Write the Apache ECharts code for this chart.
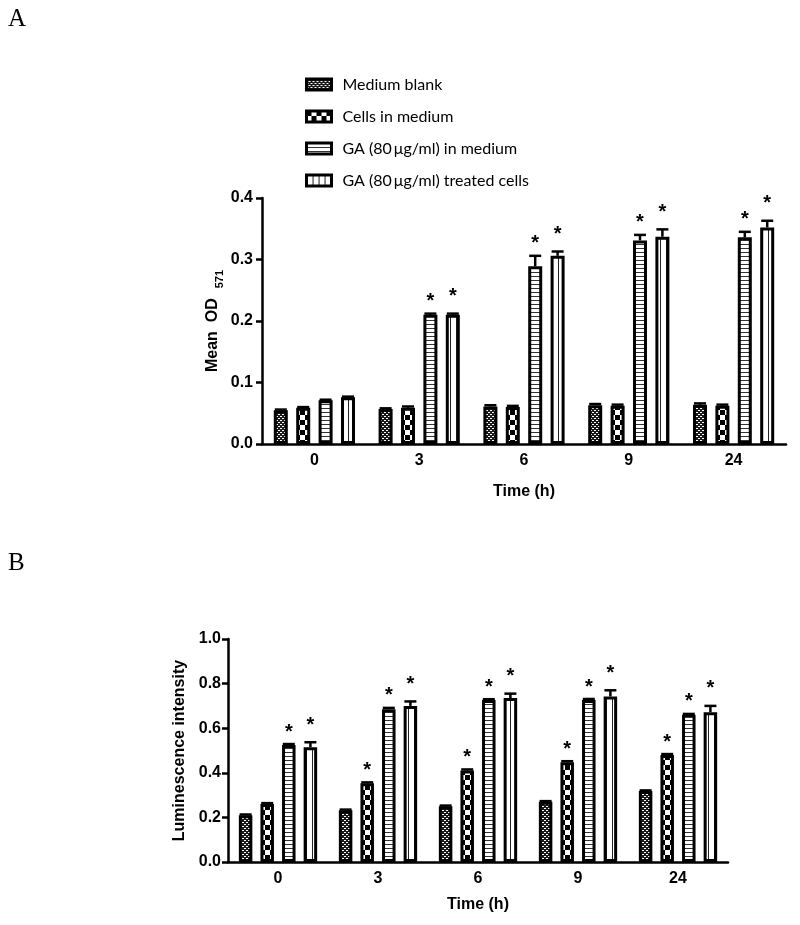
<!DOCTYPE html>
<html><head><meta charset="utf-8">
<script src="https://cdn.jsdelivr.net/npm/echarts@6/dist/echarts.min.js"></script>
<style>html,body{margin:0;padding:0;background:#fff}#c{width:800px;height:925px}</style>
</head><body><div id="c"></div>
<script>
// ---------- data ----------
const categories = ['0', '3', '6', '9', '24'];
const seriesNames = ['Medium blank', 'Cells in medium', 'GA (80\u2009\u03bcg/ml) in medium', 'GA (80\u2009\u03bcg/ml) treated cells'];

// Panel A : Mean OD 571
const aBlank     = [0.055, 0.057, 0.061, 0.063, 0.064];
const aCells     = [0.059, 0.059, 0.060, 0.062, 0.062];
const aGAMedium  = [0.071, 0.210, 0.289, 0.331, 0.336];
const aGATreated = [0.076, 0.210, 0.306, 0.337, 0.352];
const aBlankErr     = [0.001, 0.001, 0.002, 0.002, 0.002];
const aCellsErr     = [0.001, 0.002, 0.002, 0.002, 0.002];
const aGAMediumErr  = [0.001, 0.002, 0.017, 0.009, 0.009];
const aGATreatedErr = [0.001, 0.002, 0.007, 0.012, 0.011];
const aBlankSig     = [0, 0, 0, 0, 0];
const aCellsSig     = [0, 0, 0, 0, 0];
const aGAMediumSig  = [0, 1, 1, 1, 1];
const aGATreatedSig = [0, 1, 1, 1, 1];
const aTicks = [0, 0.1, 0.2, 0.3, 0.4];

// Panel B : Luminescence intensity
const bBlank     = [0.210, 0.232, 0.250, 0.270, 0.318];
const bCells     = [0.260, 0.353, 0.410, 0.447, 0.480];
const bGAMedium  = [0.525, 0.685, 0.727, 0.727, 0.660];
const bGATreated = [0.515, 0.700, 0.735, 0.742, 0.672];
const bBlankErr     = [0.003, 0.003, 0.003, 0.003, 0.003];
const bCellsErr     = [0.004, 0.004, 0.005, 0.005, 0.004];
const bGAMediumErr  = [0.004, 0.006, 0.003, 0.004, 0.004];
const bGATreatedErr = [0.022, 0.020, 0.020, 0.028, 0.028];
const bBlankSig     = [0, 0, 0, 0, 0];
const bCellsSig     = [0, 1, 1, 1, 1];
const bGAMediumSig  = [1, 1, 1, 1, 1];
const bGATreatedSig = [1, 1, 1, 1, 1];
const bTicks = [0, 0.2, 0.4, 0.6, 0.8, 1.0];

// ---------- patterns ----------
function tile(w, h, draw) {
  const c = document.createElement('canvas');
  c.width = w; c.height = h;
  const ctx = c.getContext('2d');
  draw(ctx);
  return { image: c, repeat: 'repeat' };
}
const patDots = tile(4, 4, ctx => {
  ctx.fillStyle = '#1a1a1a'; ctx.fillRect(0, 0, 4, 4);
  ctx.fillStyle = '#fff'; ctx.fillRect(0, 0, 2, 1); ctx.fillRect(2, 2, 2, 1);
});
const patChecker = tile(10, 10, ctx => {
  ctx.fillStyle = '#fff'; ctx.fillRect(0, 0, 10, 10);
  ctx.fillStyle = '#000'; ctx.fillRect(0, 0, 5, 5); ctx.fillRect(5, 5, 5, 5);
});
const patHoriz = tile(4, 4, ctx => {
  ctx.fillStyle = '#fff'; ctx.fillRect(0, 0, 4, 4);
  ctx.fillStyle = '#333'; ctx.fillRect(0, 0, 4, 1);
});
const patVert = tile(6, 4, ctx => {
  ctx.fillStyle = '#fff'; ctx.fillRect(0, 0, 6, 4);
  ctx.fillStyle = '#222'; ctx.fillRect(0, 0, 1, 4);
});
const patterns = [patDots, patChecker, patHoriz, patVert];

// ---------- helpers ----------
const FONT = 'Liberation Sans';
const starGap = [17, 17, 17, 22];

function errData(vals, errs, sigs) {
  const out = [];
  vals.forEach((v, s) => v.forEach((val, i) => out.push([i, val, errs[s][i], sigs[s][i], s])));
  return out;
}
function errRenderer(pitch, capW) {
  return function (params, api) {
    const cat = api.value(0), val = api.value(1), err = api.value(2), sig = api.value(3), s = api.value(4);
    const base = api.coord([cat, val]);
    const x = base[0] + (s - 1.5) * pitch;
    const top = api.coord([cat, val + err])[1];
    const children = [
      { type: 'line', shape: { x1: x, y1: base[1], x2: x, y2: top }, style: { stroke: '#000', lineWidth: 2.5 } },
      { type: 'line', shape: { x1: x - capW / 2, y1: top, x2: x + capW / 2, y2: top }, style: { stroke: '#000', lineWidth: 2.5 } }
    ];
    if (sig) {
      children.push({
        type: 'text', x: x, y: top - starGap[s] + 5,
        style: { text: '*', fontFamily: FONT, fontWeight: 'bold', fontSize: 20, fill: '#000', textAlign: 'center', textVerticalAlign: 'middle' }
      });
    }
    return { type: 'group', children: children };
  };
}

function yAxisCfg(gridIndex, max, interval, name, nameGap, margin, nameTextStyle) {
  return {
    type: 'value', gridIndex: gridIndex, min: 0, max: max, interval: interval,
    name: name, nameLocation: 'middle', nameGap: nameGap, nameRotate: 90, nameMoveOverlap: false,
    nameTextStyle: nameTextStyle,
    axisLine: { show: true, lineStyle: { color: '#000', width: 2.5 } },
    axisTick: { show: true, length: 6, lineStyle: { color: '#000', width: 2.5 } },
    axisLabel: { color: '#000', fontFamily: FONT, fontWeight: 'bold', fontSize: 16, margin: margin,
      formatter: v => v.toFixed(1) },
    splitLine: { show: false }
  };
}
function xAxisCfg(gridIndex, nameGap) {
  return {
    type: 'category', gridIndex: gridIndex, data: categories,
    name: 'Time (h)', nameLocation: 'middle', nameGap: nameGap, nameMoveOverlap: false,
    nameTextStyle: { color: '#000', fontFamily: FONT, fontWeight: 'bold', fontSize: 16 },
    axisLine: { lineStyle: { color: '#000', width: 2.5 } },
    axisTick: { alignWithLabel: true, length: 7, lineStyle: { color: '#000', width: 2.5 } },
    axisLabel: { color: '#000', fontFamily: FONT, fontWeight: 'bold', fontSize: 16, margin: 8.5 },
    splitLine: { show: false }
  };
}

const aVals = [aBlank, aCells, aGAMedium, aGATreated];
const aErrs = [aBlankErr, aCellsErr, aGAMediumErr, aGATreatedErr];
const aSigs = [aBlankSig, aCellsSig, aGAMediumSig, aGATreatedSig];
const bVals = [bBlank, bCells, bGAMedium, bGATreated];
const bErrs = [bBlankErr, bCellsErr, bGAMediumErr, bGATreatedErr];
const bSigs = [bBlankSig, bCellsSig, bGAMediumSig, bGATreatedSig];

const A_BW = 14, B_BW = 13.5, GAP = 0.6;

const series = [];
aVals.forEach((v, s) => series.push({
  name: seriesNames[s], type: 'bar', xAxisIndex: 0, yAxisIndex: 0, data: v,
  barWidth: A_BW, barGap: (GAP * 100) + '%',
  itemStyle: { color: patterns[s], borderColor: '#000', borderWidth: 3 }
}));
bVals.forEach((v, s) => series.push({
  name: seriesNames[s], type: 'bar', xAxisIndex: 1, yAxisIndex: 1, data: v,
  barWidth: B_BW, barGap: (GAP * 100) + '%',
  itemStyle: { color: patterns[s], borderColor: '#000', borderWidth: 3 }
}));
series.push({
  type: 'custom', xAxisIndex: 0, yAxisIndex: 0, z: 5, silent: true,
  renderItem: errRenderer(A_BW * (1 + GAP), 12), data: errData(aVals, aErrs, aSigs)
});
series.push({
  type: 'custom', xAxisIndex: 1, yAxisIndex: 1, z: 5, silent: true,
  renderItem: errRenderer(B_BW * (1 + GAP), 12), data: errData(bVals, bErrs, bSigs)
});

const chart = echarts.init(document.getElementById('c'), null, { renderer: 'canvas' });
chart.setOption({
  backgroundColor: '#fff',
  animation: false,
  grid: [
    { left: 262, top: 198, width: 524, height: 246 },
    { left: 228, top: 639, width: 500, height: 223 }
  ],
  xAxis: [xAxisCfg(0, 40), xAxisCfg(1, 35)],
  yAxis: [
    yAxisCfg(0, aTicks[aTicks.length - 1], aTicks[1] - aTicks[0], '{a|Mean  OD}{s|571}', 37, 9, {
      rich: {
        a: { fontFamily: FONT, fontWeight: 'bold', fontSize: 16, color: '#000', lineHeight: 24, verticalAlign: 'middle' },
        s: { fontFamily: FONT, fontWeight: 'bold', fontSize: 11, color: '#000', lineHeight: 12, verticalAlign: 'bottom', padding: [0, 0, 0, 10] }
      }
    }),
    yAxisCfg(1, bTicks[bTicks.length - 1], bTicks[1] - bTicks[0], 'Luminescence intensity', 40, 7,
      { color: '#000', fontFamily: FONT, fontWeight: 'bold', fontSize: 16 })
  ],
  legend: {
    orient: 'vertical', left: 300, top: 69, itemWidth: 25, itemHeight: 11, itemGap: 11, icon: 'rect',
    data: seriesNames, selectedMode: false,
    itemStyle: { borderColor: '#000', borderWidth: 3 },
    textStyle: { fontFamily: 'Lato', fontSize: 16, color: '#000', lineHeight: 21, padding: [0, 0, 0, 6] }
  },
  graphic: [
    { type: 'text', left: 8, top: 7, style: { text: 'A', font: '25px "Liberation Serif"', fill: '#000' } },
    { type: 'text', left: 8, top: 551, style: { text: 'B', font: '25px "Liberation Serif"', fill: '#000' } }
  ],
  series: series
});
</script>
</body></html>
